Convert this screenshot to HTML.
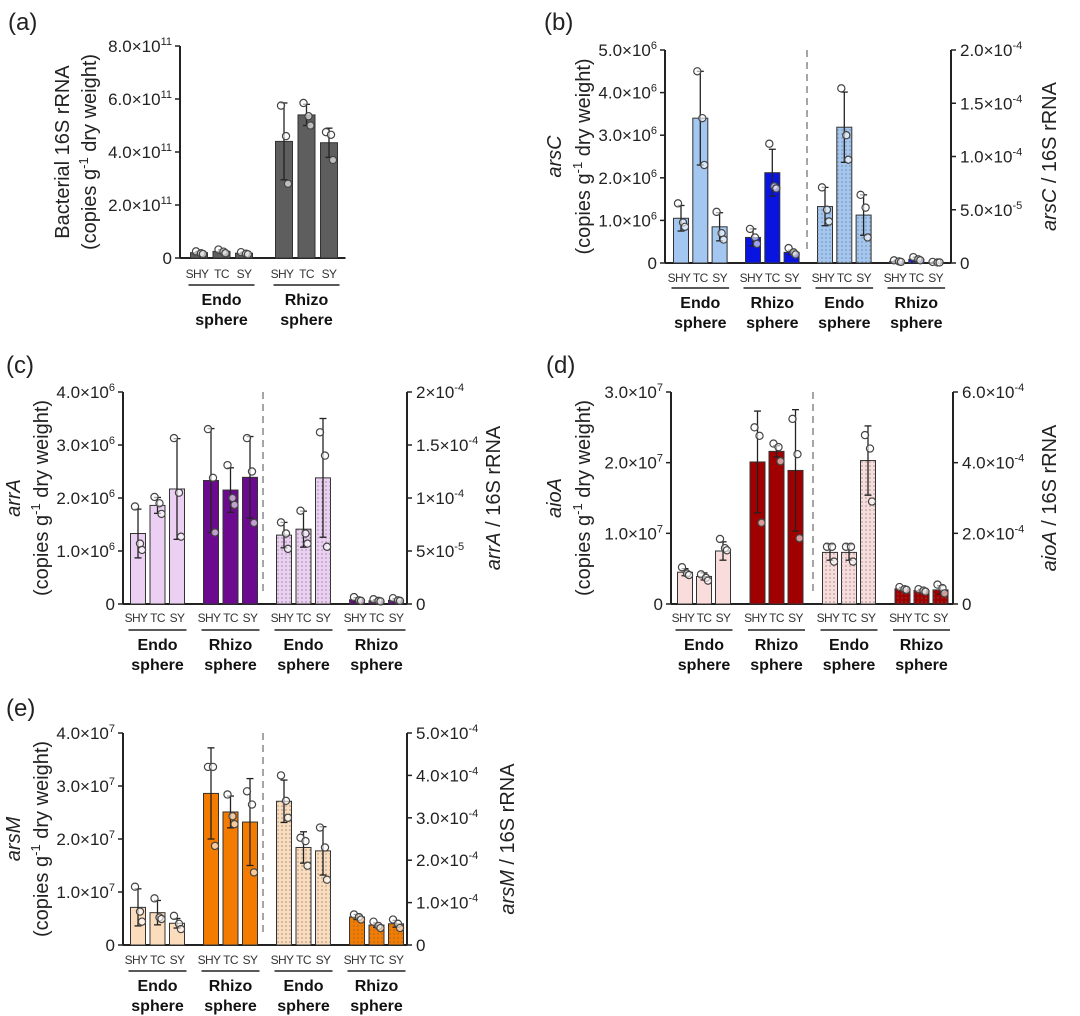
<!DOCTYPE html>
<html><head><meta charset="utf-8"><style>
html,body{margin:0;padding:0;background:#fff;}
svg{display:block;font-family:"Liberation Sans",Arial,sans-serif;}
</style></head><body>
<svg id="fig" width="1080" height="1016" viewBox="0 0 1080 1016" xmlns="http://www.w3.org/2000/svg">
<defs>
<pattern id="dots" width="4" height="4" patternUnits="userSpaceOnUse"><circle cx="2" cy="2" r="0.6" fill="#666"/></pattern>
</defs>
</svg>
<script>
// ---- data arrays ----
const groupLabels = ["SHY","TC","SY"];
// panel a (x1e11)
const aVals = [0.20,0.25,0.18, 4.40,5.40,4.35];
const aSd   = [0.05,0.06,0.04, 1.45,0.40,0.55];
const aPts  = [[0.25,0.18,0.15],[0.32,0.24,0.18],[0.22,0.16,0.14],[5.75,4.6,2.8],[5.85,5.35,5.0],[4.75,4.65,3.7]];
const aTicks = [0,2,4,6,8];
// panel b: left 1e6, right 1e-5
const bVals = [1.05,3.40,0.85, 0.60,2.12,0.25];
const bSd   = [0.30,1.10,0.33, 0.20,0.55,0.05];
const bPts  = [[1.4,0.95,0.85],[4.5,3.4,2.3],[1.2,0.7,0.55],[0.8,0.6,0.45],[2.8,1.8,1.75],[0.35,0.25,0.2]];
const bRVals = [5.3,12.75,4.5, 0.15,0.35,0.05];
const bRSd   = [1.8,3.3,1.9, 0.1,0.2,0.05];
const bRPts  = [[7.1,5.0,3.9],[16.4,12.0,9.7],[6.4,5.2,2.4],[0.25,0.15,0.1],[0.55,0.35,0.25],[0.1,0.05,0.05]];
const bTicks = [0,1,2,3,4,5];
const bRTicks = [0,5,10,15,20];
const bRTickLabels = [["0",""],["5.0×10","-5"],["1.0×10","-4"],["1.5×10","-4"],["2.0×10","-4"]];
// panel c: left 1e6, right 1e-5
const cVals = [1.33,1.86,2.17, 2.33,2.15,2.39];
const cSd   = [0.46,0.15,0.95, 0.98,0.42,0.77];
const cPts  = [[1.84,1.14,1.02],[2.02,1.9,1.7],[3.13,2.1,1.27],[3.3,2.38,1.35],[2.62,2.0,1.87],[3.13,2.5,1.53]];
const cRVals = [6.5,7.06,11.9, 0.4,0.3,0.35];
const cRSd   = [1.2,1.7,5.6, 0.2,0.1,0.15];
const cRPts  = [[7.7,6.65,5.2],[8.8,6.65,5.7],[16.2,14.0,5.4],[0.65,0.35,0.3],[0.45,0.3,0.25],[0.55,0.35,0.3]];
const cTicks = [0,1,2,3,4];
const cRTicks = [0,5,10,15,20];
const cRTickLabels = [["0",""],["5×10","-5"],["1×10","-4"],["1.5×10","-4"],["2×10","-4"]];
// panel d: left 1e7, right 1e-4
const dVals = [0.45,0.39,0.75, 2.01,2.16,1.89];
const dSd   = [0.05,0.05,0.13, 0.72,0.08,0.86];
const dPts  = [[0.52,0.43,0.41],[0.42,0.37,0.33],[0.92,0.79,0.76],[2.5,2.38,1.15],[2.27,2.22,2.02],[2.62,2.12,0.93]];
const dRVals = [1.46,1.46,4.06, 0.43,0.38,0.40];
const dRSd   = [0.22,0.22,0.98, 0.04,0.03,0.12];
const dRPts  = [[1.62,1.62,1.2],[1.62,1.62,1.2],[4.78,4.4,2.9],[0.48,0.42,0.4],[0.42,0.38,0.35],[0.55,0.45,0.3]];
const dTicks = [0,1,2,3];
const dRTicks = [0,2,4,6];
const dRTickLabels = [["0",""],["2.0×10","-4"],["4.0×10","-4"],["6.0×10","-4"]];
// panel e: left 1e7, right 1e-4
const eVals = [0.71,0.61,0.41, 2.86,2.51,2.32];
const eSd   = [0.35,0.23,0.09, 0.86,0.30,0.82];
const ePts  = [[1.1,0.63,0.44],[0.88,0.52,0.49],[0.55,0.4,0.3],[3.36,3.36,1.87],[2.84,2.43,2.28],[2.9,2.65,1.37]];
const eRVals = [3.39,2.30,2.22, 0.66,0.47,0.50];
const eRSd   = [0.50,0.37,0.57, 0.06,0.05,0.08];
const eRPts  = [[4.0,3.4,3.0],[2.53,2.45,1.87],[2.77,2.3,1.54],[0.72,0.66,0.6],[0.55,0.45,0.4],[0.6,0.5,0.4]];
const eTicks = [0,1,2,3,4];
const eRTicks = [0,1,2,3,4,5];
const eRTickLabels = [["0",""],["1.0×10","-4"],["2.0×10","-4"],["3.0×10","-4"],["4.0×10","-4"],["5.0×10","-4"]];

const NS="http://www.w3.org/2000/svg";
const svg=document.getElementById('fig');
function mk(tag,attrs,parent){const e=document.createElementNS(NS,tag);for(const k in attrs)e.setAttribute(k,attrs[k]);(parent||svg).appendChild(e);return e;}

function tickText(g,x,y,anchor,base,exp){
  const t=mk('text',{x:x,y:y,'text-anchor':anchor,'font-size':17,fill:'#222'},g);
  const s1=document.createElementNS(NS,'tspan');s1.textContent=base;t.appendChild(s1);
  if(exp){const s2=document.createElementNS(NS,'tspan');s2.setAttribute('dy','-7');s2.setAttribute('font-size','11');s2.textContent=exp;t.appendChild(s2);}
  return t;
}

function drawBar(g,cx,w,yv,y0,fill,dotted,name){
  const r=mk('rect',{x:cx-w/2,y:yv,width:w,height:y0-yv,fill:fill,stroke:'#333','stroke-width':1},g);
  
  
  if(dotted){mk('rect',{x:cx-w/2,y:yv,width:w,height:y0-yv,fill:'url(#dots)',stroke:'none'},g);}
}
function drawErr(g,cx,ytop,ybot){
  mk('line',{x1:cx,x2:cx,y1:ytop,y2:ybot,stroke:'#222','stroke-width':1.3},g);
  mk('line',{x1:cx-3.5,x2:cx+3.5,y1:ytop,y2:ytop,stroke:'#222','stroke-width':1.3},g);
  mk('line',{x1:cx-3.5,x2:cx+3.5,y1:ybot,y2:ybot,stroke:'#222','stroke-width':1.3},g);
}
const jit=[-3,2,4];
function drawPts(g,cx,ys){
  ys.forEach((y,i)=>{const c=mk('circle',{cx:cx+jit[i],cy:y,r:3.6,fill:'rgba(255,255,255,0.6)',stroke:'#444','stroke-width':1.2},g);
    
    });
}

function panel(c){
  const g=mk('g',{});
  
  
  const yL=v=>c.zero-(v/c.lmax)*(c.zero-c.top);
  const yR=v=>c.zero-(v/c.rmax)*(c.zero-c.top);
  const nG=c.rvals?4:2;
  const centers=[];
  for(let k=0;k<nG;k++)for(let i=0;i<3;i++)centers.push(c.lx+c.first+k*c.gstep+i*c.bstep);
  const xEnd=c.rx?c.rx:centers[centers.length-1]+c.bw/2+8;
  const pl=mk('text',{x:c.plx,y:c.ply,'font-size':24,fill:'#222'},g);pl.textContent='('+c.id+')';
  
  mk('line',{x1:c.lx,x2:c.lx,y1:c.top,y2:c.zero,stroke:'#222','stroke-width':2},g);
  mk('line',{x1:c.lx,x2:xEnd,y1:c.zero,y2:c.zero,stroke:'#222','stroke-width':2},g);
  c.lticks.forEach(t=>{const y=yL(t);mk('line',{x1:c.lx-5,x2:c.lx,y1:y,y2:y,stroke:'#222','stroke-width':1.5},g);
    const tt=tickText(g,c.lx-8,y+6,'end',t===0?'0':t.toFixed(1)+'×10',t===0?'':c.lexp);
    });
  if(c.rx){
    mk('line',{x1:c.rx,x2:c.rx,y1:c.top,y2:c.zero,stroke:'#222','stroke-width':2},g);
    c.rticks.forEach((t,i)=>{const y=yR(t);mk('line',{x1:c.rx,x2:c.rx+5,y1:y,y2:y,stroke:'#222','stroke-width':1.5},g);
      const tt=tickText(g,c.rx+9,y+6,'start',c.rlabels[i][0],c.rlabels[i][1]);
      });
    mk('line',{x1:c.dash,x2:c.dash,y1:c.top,y2:c.zero-10,stroke:'#888','stroke-width':1.5,'stroke-dasharray':'7,5'},g);
  }
  for(let j=0;j<6;j++){
    const cx=centers[j];
    drawBar(g,cx,c.bw,yL(c.vals[j]),c.zero,j<3?c.light:c.dark,false,'bar-'+(j<3?'endo':'rhizo')+'-'+groupLabels[j%3].toLowerCase());
    drawErr(g,cx,yL(c.vals[j]+c.sd[j]),yL(Math.max(0,c.vals[j]-c.sd[j])));
    drawPts(g,cx,c.pts[j].map(yL));
  }
  if(c.rvals){for(let j=0;j<6;j++){
    const cx=centers[6+j];
    drawBar(g,cx,c.bw,yR(c.rvals[j]),c.zero,j<3?c.light:c.dark,true,'bar-ratio-'+(j<3?'endo':'rhizo')+'-'+groupLabels[j%3].toLowerCase());
    drawErr(g,cx,yR(c.rvals[j]+c.rsd[j]),yR(Math.max(0,c.rvals[j]-c.rsd[j])));
    drawPts(g,cx,c.rpts[j].map(yR));
  }}
  for(let k=0;k<nG;k++){
    const a=centers[k*3],b=centers[k*3+2];
    for(let i=0;i<3;i++){const t=mk('text',{x:centers[k*3+i]+(i===0?-2:0),y:c.ylab,'text-anchor':'middle','font-size':12,'letter-spacing':'-0.6',fill:'#333'},g);t.textContent=groupLabels[i];
      }
    mk('line',{x1:a-c.bw/2-2,x2:b+c.bw/2+2,y1:c.yline,y2:c.yline,stroke:'#222','stroke-width':1.6},g);
    const nm=(k%2===0)?'Endo':'Rhizo';
    const t1=mk('text',{x:(a+b)/2,y:c.yline+20,'text-anchor':'middle','font-size':16,'font-weight':'bold',fill:'#111'},g);t1.textContent=nm;
    
    const t2=mk('text',{x:(a+b)/2,y:c.yline+40,'text-anchor':'middle','font-size':16,'font-weight':'bold',fill:'#111'},g);t2.textContent='sphere';
  }
  const cy=(c.top+c.zero)/2+c.tdy;
  const t1=mk('text',{x:0,y:0,'text-anchor':'middle','font-size':20,fill:'#222',transform:`translate(${c.t1x},${cy}) rotate(-90)`},g);
  if(c.gene){const s=document.createElementNS(NS,'tspan');s.setAttribute('font-style','italic');s.textContent=c.gene;t1.appendChild(s);}
  else t1.textContent='Bacterial 16S rRNA';
  
  const t2=mk('text',{x:0,y:0,'text-anchor':'middle','font-size':20,fill:'#222',transform:`translate(${c.t2x},${cy}) rotate(-90)`},g);
  const p1=document.createElementNS(NS,'tspan');p1.textContent='(copies g';t2.appendChild(p1);
  const p2=document.createElementNS(NS,'tspan');p2.setAttribute('dy','-8');p2.setAttribute('font-size','13');p2.textContent='-1';t2.appendChild(p2);
  const p3=document.createElementNS(NS,'tspan');p3.setAttribute('dy','8');p3.textContent=' dry weight)';t2.appendChild(p3);
  if(c.rx){
    const t3=mk('text',{x:0,y:0,'text-anchor':'middle','font-size':20,fill:'#222',transform:`translate(${c.t3x},${cy}) rotate(-90)`},g);
    const q1=document.createElementNS(NS,'tspan');q1.setAttribute('font-style','italic');q1.textContent=c.gene;t3.appendChild(q1);
    const q2=document.createElementNS(NS,'tspan');q2.textContent=' / 16S rRNA';t3.appendChild(q2);
    
  }
}

panel({id:'a',plx:8,ply:30,lx:180,top:46,zero:258,lmax:8,lticks:aTicks,lexp:'11',
  first:19,gstep:85,bstep:22.5,bw:17,vals:aVals,sd:aSd,pts:aPts,light:'#5e5e5e',dark:'#5e5e5e',
  ylab:278,yline:285,t1x:69,t2x:96,tdy:0});
panel({id:'b',gene:'arsC',plx:544,ply:30,lx:665,rx:951,dash:807,top:50,zero:263,lmax:5,lticks:bTicks,lexp:'6',
  rmax:20,rticks:bRTicks,rlabels:bRTickLabels,
  first:16,gstep:72,bstep:19.3,bw:15,vals:bVals,sd:bSd,pts:bPts,rvals:bRVals,rsd:bRSd,rpts:bRPts,
  light:'#a3c7f0',dark:'#0a14e0',ylab:282,yline:288,t1x:561,t2x:590,t3x:1056,tdy:0});
panel({id:'c',gene:'arrA',plx:6,ply:373,lx:123,rx:407,dash:263,top:392,zero:604,lmax:4,lticks:cTicks,lexp:'6',
  rmax:20,rticks:cRTicks,rlabels:cRTickLabels,
  first:15,gstep:73,bstep:19.5,bw:15,vals:cVals,sd:cSd,pts:cPts,rvals:cRVals,rsd:cRSd,rpts:cRPts,
  light:'#ecd0f3',dark:'#6b0a8e',ylab:622,yline:630,t1x:20,t2x:48,t3x:500,tdy:0});
panel({id:'d',gene:'aioA',plx:546,ply:373,lx:671,rx:953,dash:813,top:392,zero:604,lmax:3,lticks:dTicks,lexp:'7',
  rmax:6,rticks:dRTicks,rlabels:dRTickLabels,
  first:14,gstep:72.5,bstep:19,bw:15,vals:dVals,sd:dSd,pts:dPts,rvals:dRVals,rsd:dRSd,rpts:dRPts,
  light:'#f9dcdc',dark:'#a00000',ylab:622,yline:630,t1x:561,t2x:590,t3x:1056,tdy:0});
panel({id:'e',gene:'arsM',plx:6,ply:716,lx:123,rx:407,dash:263,top:733,zero:945,lmax:4,lticks:eTicks,lexp:'7',
  rmax:5,rticks:eRTicks,rlabels:eRTickLabels,
  first:15,gstep:73,bstep:19.5,bw:15,vals:eVals,sd:eSd,pts:ePts,rvals:eRVals,rsd:eRSd,rpts:eRPts,
  light:'#fbdcbd',dark:'#f27b00',ylab:964,yline:971,t1x:20,t2x:48,t3x:514,tdy:0});
</script>
</body></html>
